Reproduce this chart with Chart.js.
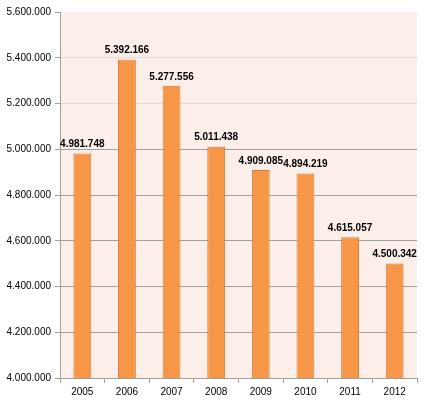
<!DOCTYPE html>
<html>
<head>
<meta charset="utf-8">
<script src="https://cdn.jsdelivr.net/npm/chart.js@4"></script>
<style>
  html, body { margin: 0; padding: 0; background: #fff; }
  #wrap { width: 427px; height: 401px; }
</style>
</head>
<body>
<div id="wrap"><canvas id="myChart"></canvas></div>
<script>
// anni e valori
const years = ['2005', '2006', '2007', '2008', '2009', '2010', '2011', '2012'];
const values = [4981748, 5392166, 5277556, 5011438, 4909085, 4894219, 4615057, 4500342];
const yTicks = [4000000, 4200000, 4400000, 4600000, 4800000, 5000000, 5200000, 5400000, 5600000];

// formato con i punti (4.981.748)
function fmt(v) {
    return String(v).replace(/\B(?=(\d{3})+(?!\d))/g, '.');
}

// sfondo rosa dell'area del grafico
const plotBg = {
    id: 'plotBg',
    beforeDraw(chart) {
        const a = chart.chartArea;
        const ctx = chart.ctx;
        ctx.save();
        ctx.fillStyle = '#fcefea';
        ctx.fillRect(a.left, a.top, a.right - a.left, a.bottom - a.top);
        ctx.restore();
    }
};

// etichette sopra le barre
const barLabels = {
    id: 'barLabels',
    afterDatasetsDraw(chart) {
        const ctx = chart.ctx;
        const meta = chart.getDatasetMeta(0);
        ctx.save();
        ctx.font = 'bold 10px "Liberation Sans", Arial, sans-serif';
        ctx.fillStyle = '#000';
        ctx.textAlign = 'center';
        ctx.textBaseline = 'bottom';
        meta.data.forEach((bar, i) => {
            ctx.fillText(fmt(values[i]), bar.x, bar.y - 4);
        });
        ctx.restore();
    }
};

const ctx = document.getElementById('myChart').getContext('2d');
const myChart = new Chart(ctx, {
    type: 'bar',
    data: {
        labels: years,
        datasets: [{
            data: values,
            backgroundColor: '#f79646',
            borderColor: '#d2803f',
            borderWidth: { left: 1, right: 1, top: 1, bottom: 0 },
            borderSkipped: 'bottom',
            categoryPercentage: 1,
            barPercentage: 0.4
        }]
    },
    options: {
        responsive: true,
        maintainAspectRatio: false,
        animation: false,
        layout: { padding: { top: 12, right: 10, left: 0, bottom: 0 } },
        plugins: {
            legend: { display: false },
            tooltip: { enabled: false }
        },
        scales: {
            x: {
                offset: true,
                grid: {
                    offset: true,
                    drawOnChartArea: false,
                    tickLength: 5,
                    tickColor: '#a0a0a0'
                },
                border: { color: '#a0a0a0' },
                ticks: {
                    color: '#000',
                    padding: 3,
                    font: { family: '"Liberation Sans", Arial, sans-serif', size: 10 }
                },
                afterFit(scale) { scale.height = 23; }
            },
            y: {
                min: 4000000,
                max: 5600000,
                afterBuildTicks(scale) {
                    scale.ticks = yTicks.map(v => ({ value: v }));
                },
                grid: {
                    tickLength: 5,
                    color: c => {
                        const v = c.tick ? c.tick.value : 0;
                        if (v >= 5600000) return 'rgba(0,0,0,0)';
                        return v > 5000000 ? '#e8d8d3' : '#a0a0a0';
                    },
                    tickColor: '#a0a0a0'
                },
                border: { color: '#a0a0a0' },
                ticks: {
                    color: '#000',
                    padding: 4,
                    font: { family: '"Liberation Sans", Arial, sans-serif', size: 10 },
                    callback: v => fmt(v)
                },
                afterFit(scale) { scale.width = 60; }
            }
        }
    },
    plugins: [plotBg, barLabels]
});
</script>
</body>
</html>
